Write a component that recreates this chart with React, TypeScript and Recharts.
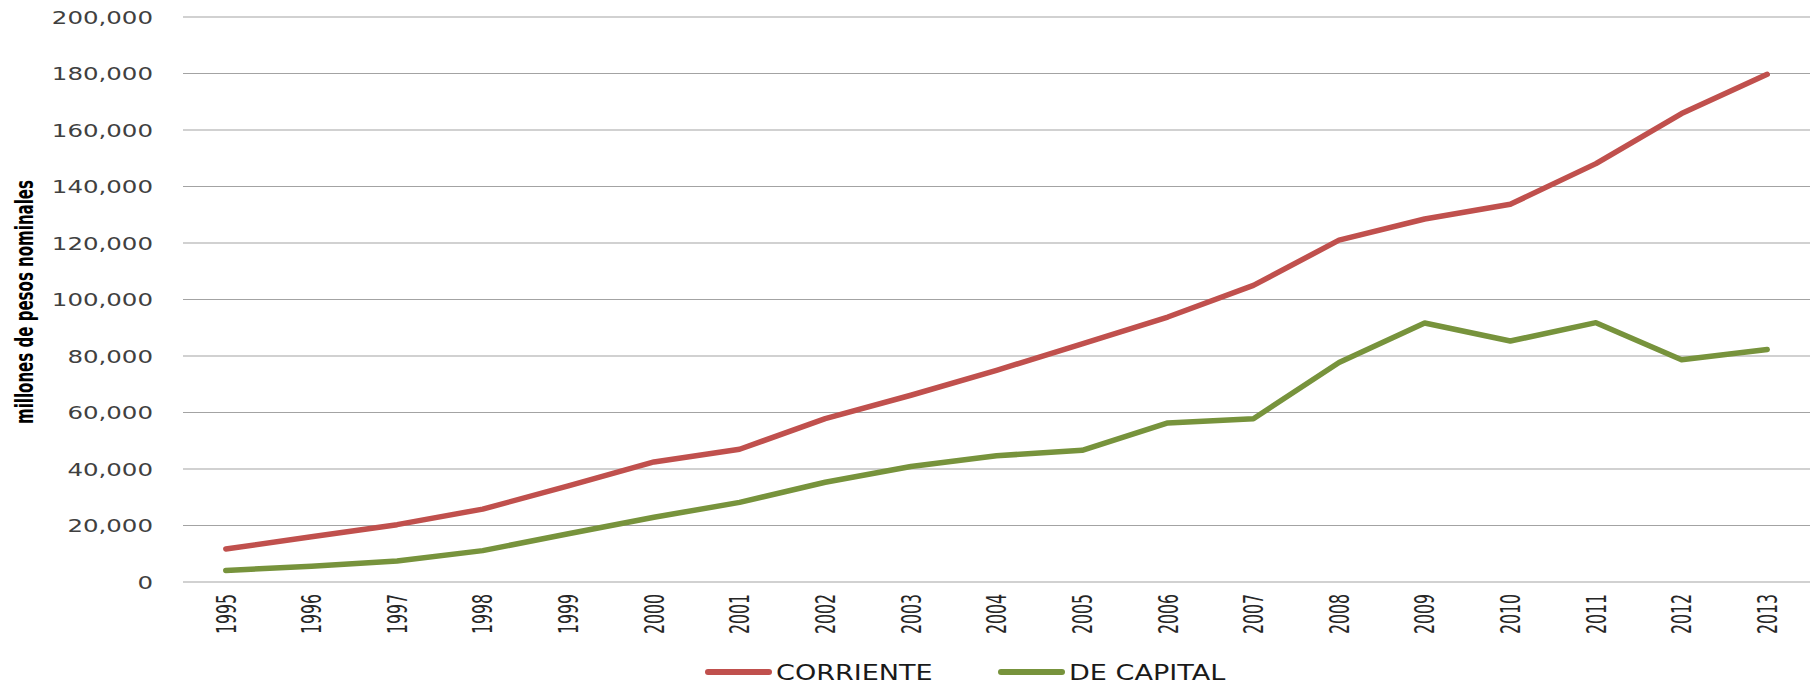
import { LineChart, Line, XAxis, YAxis, CartesianGrid } from "recharts";

const years = [
  "1995", "1996", "1997", "1998", "1999", "2000", "2001", "2002", "2003", "2004",
  "2005", "2006", "2007", "2008", "2009", "2010", "2011", "2012", "2013",
];

// millones de pesos nominales
const corriente = [
  11700, 16000, 20300, 25800, 34000, 42500, 47000, 57800, 66100, 74900,
  84300, 93800, 105000, 121000, 128500, 133700, 148100, 165800, 179700,
];
const deCapital = [
  4100, 5600, 7400, 11100, 17100, 22900, 28200, 35300, 40900, 44700,
  46600, 56300, 57800, 77700, 91700, 85300, 91800, 78700, 82300,
];

const yTicks = [0, 20000, 40000, 60000, 80000, 100000, 120000, 140000, 160000, 180000, 200000];

const RED = "#C0504D";
const GREEN = "#77933C";

const data = years.map((year, i) => ({
  year,
  corriente: corriente[i],
  deCapital: deCapital[i],
}));

const YTick = (props: any) => {
  const { x, y, payload } = props;
  return (
    <text
      transform={`translate(${x},${y}) scale(1.36,1)`}
      textAnchor="end"
      dy={6.5}
      fontFamily="DejaVu Sans"
      fontSize={18}
      fill="#404040"
    >
      {Number(payload.value).toLocaleString("en-US")}
    </text>
  );
};

const XTick = (props: any) => {
  const { x, y, payload } = props;
  return (
    <text
      transform={`translate(${x},${y}) scale(1.55,1) rotate(-90)`}
      textAnchor="end"
      dy={6.3}
      fontFamily="DejaVu Sans Condensed"
      fontSize={17.5}
      fill="#262626"
    >
      {payload.value}
    </text>
  );
};

const AxisTitle = () => (
  <text
    transform="translate(33,302) scale(1.45,1) rotate(-90)"
    textAnchor="middle"
    fontFamily="DejaVu Sans Condensed"
    fontWeight="bold"
    fontSize={17.5}
    fill="#000"
    textLength={244}
    lengthAdjust="spacingAndGlyphs"
  >
    millones de pesos nominales
  </text>
);

const legendItems = [
  { label: "CORRIENTE", color: RED, x: 705 },
  { label: "DE CAPITAL", color: GREEN, x: 998 },
];

export default function App() {
  return (
    <div style={{ position: "absolute", left: 0, top: 0, width: 1812, height: 684, background: "#fff" }}>
      <LineChart
        width={1812}
        height={684}
        data={data}
        margin={{ top: 17, right: 2, left: 33, bottom: 42 }}
      >
        <CartesianGrid vertical={false} stroke="#a3a3a3" strokeWidth={1.2} />
        <XAxis
          dataKey="year"
          interval={0}
          axisLine={false}
          tickLine={false}
          tickSize={0}
          tickMargin={12}
          height={60}
          padding={{ left: 42.8, right: 42.8 }}
          tick={<XTick />}
        />
        <YAxis
          width={150}
          domain={[0, 200000]}
          ticks={yTicks}
          interval={0}
          axisLine={false}
          tickLine={false}
          tickSize={0}
          tickMargin={30}
          tick={<YTick />}
          label={{ content: () => <AxisTitle /> }}
        />
        <Line
          type="linear"
          dataKey="corriente"
          name="CORRIENTE"
          stroke={RED}
          strokeWidth={5.5}
          strokeLinecap="round"
          strokeLinejoin="round"
          dot={false}
          activeDot={false}
          isAnimationActive={false}
        />
        <Line
          type="linear"
          dataKey="deCapital"
          name="DE CAPITAL"
          stroke={GREEN}
          strokeWidth={5.5}
          strokeLinecap="round"
          strokeLinejoin="round"
          dot={false}
          activeDot={false}
          isAnimationActive={false}
        />
      </LineChart>
      <svg width={1812} height={40} style={{ position: "absolute", left: 0, top: 652 }}>
        {legendItems.map((item) => (
          <g key={item.label}>
            <line x1={item.x + 3} y1={20} x2={item.x + 64} y2={20} stroke={item.color} strokeWidth={6} strokeLinecap="round" />
            <text
              transform={`translate(${item.x + 71},27.5) scale(1.32,1)`}
              fontFamily="DejaVu Sans"
              fontSize={20.5}
              fill="#1a1a1a"
            >
              {item.label}
            </text>
          </g>
        ))}
      </svg>
    </div>
  );
}
